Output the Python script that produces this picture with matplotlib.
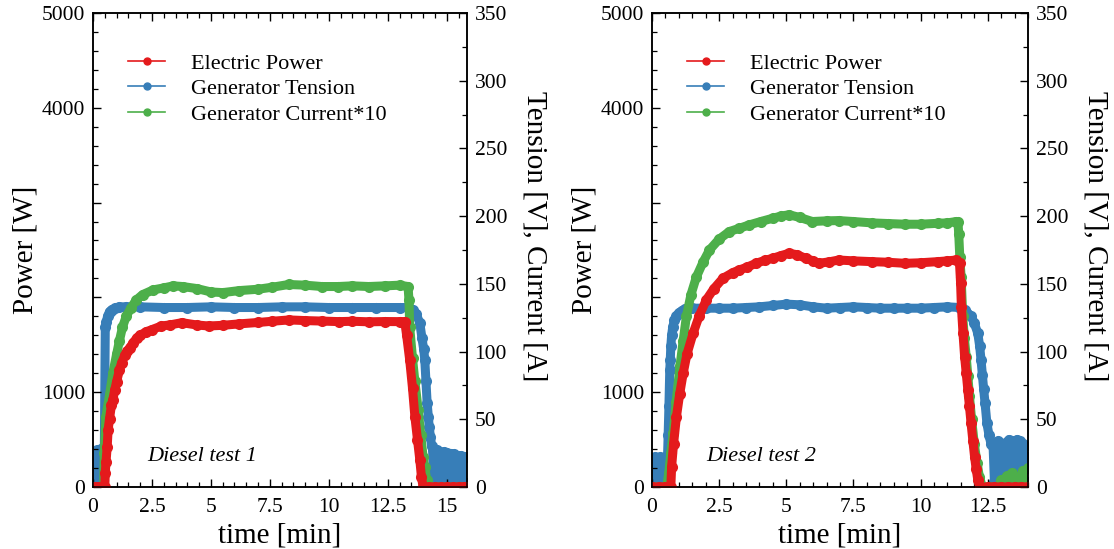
import matplotlib
matplotlib.use("Agg")
import matplotlib.pyplot as plt
from matplotlib.ticker import MultipleLocator, FuncFormatter

plt.rcParams['font.family'] = ['Liberation Serif', 'DejaVu Serif']

RED = '#E41A1C'
BLUE = '#377EB8'
GREEN = '#4DAF4A'

# ---------------- Diesel test 1 ----------------
power1_t = [0.0, 0.1, 0.2, 0.3, 0.4, 0.5, 0.52, 0.55, 0.6, 0.64, 0.7, 0.78, 0.84, 0.92, 1.0, 1.12,
            1.21, 1.35, 1.45, 1.55, 1.7, 1.85, 2.0, 2.26, 2.5, 2.9, 3.25, 3.77, 4.39, 4.9, 5.5, 6.18,
            7.0, 7.6, 8.32, 9.0, 9.7, 10.45, 11.0, 11.7, 12.4, 13.0, 13.22, 13.3, 13.43, 13.55, 13.65,
            13.76, 13.86, 13.93, 14.0, 14.25, 14.5, 14.75, 15.0, 15.25, 15.5, 15.75, 15.86]
power1 = [0, 0, 0, 0, 0, 0, 150, 260, 420, 600, 720, 860, 918, 1023, 1110, 1234,
          1308, 1390, 1430, 1466, 1520, 1570, 1600, 1638, 1660, 1698, 1709, 1733, 1709, 1698, 1705, 1720,
          1735, 1748, 1762, 1755, 1750, 1744, 1748, 1742, 1745, 1744, 1744, 1600, 1340, 1040, 742,
          500, 285, 100, 0, 0, 0, 0, 0, 0, 0, 0, 0]

tension1_t = [0.00, 0.04, 0.08, 0.12, 0.16, 0.20, 0.24, 0.28, 0.32, 0.36, 0.40, 0.44, 0.48,
              0.52, 0.56, 0.62, 0.70, 0.80, 0.95, 1.12, 1.4, 2.0, 3.0, 4.0, 5.0, 6.0, 7.0, 8.0,
              9.0, 10.0, 11.0, 12.0, 13.0, 13.4, 13.56, 13.7, 13.86, 13.95, 14.02, 14.07, 14.12,
              14.17, 14.22, 14.26, 14.31, 14.36,
              14.40, 14.45, 14.50, 14.55, 14.60, 14.65, 14.70, 14.75, 14.80, 14.85, 14.90, 14.95,
              15.00, 15.05, 15.10, 15.15, 15.20, 15.25, 15.30, 15.35, 15.40, 15.45, 15.50, 15.55,
              15.60, 15.65, 15.70, 15.75, 15.80, 15.86]
tension1 = [25, 3, 26, 2, 27, 4, 26, 1, 28, 3, 28, 5, 29,
            118, 122, 126, 129.5, 131, 132, 133, 133, 133, 132.5, 132.5, 133, 132.5, 132.5, 133,
            133, 132.5, 132.5, 132.5, 132.5, 132.5, 131, 128, 121, 110, 102, 94, 78,
            62, 52, 44, 37, 30,
            28, 3, 27, 1, 27, 4, 26, 2, 25, 5, 26, 1,
            25, 3, 24, 2, 24, 4, 24, 1, 23, 3, 23, 2,
            23, 4, 22, 1, 22, 3]

current1_t = [0.0, 0.45, 0.48, 0.55, 0.7, 0.84, 1.0, 1.12, 1.25, 1.41, 1.6, 1.83, 2.1, 2.55, 3.0,
              3.4, 3.8, 4.4, 5.0, 5.5, 6.2, 7.0, 7.6, 8.3, 9.0, 9.7, 10.4, 11.0, 11.7, 12.4, 13.0,
              13.36, 13.40, 13.43, 13.55, 13.65, 13.79, 13.9, 14.0, 14.07, 14.15, 14.2, 14.5, 15.0,
              15.5, 15.86]
current1 = [0, 0, 25, 52, 68, 84, 98, 108, 118, 126, 132, 138, 142, 145.5, 147,
            148.5, 148, 146.5, 144, 143.5, 145, 146, 147.5, 149.5, 149, 148, 148, 148.5, 148, 148.5, 149,
            148, 138, 118, 95, 78, 57, 38, 22, 15, 5, 0, 0, 0,
            0, 0]

# ---------------- Diesel test 2 ----------------
power2_t = [0.0, 0.25, 0.5, 0.7, 0.73, 0.8, 0.91, 1.03, 1.16, 1.3, 1.53, 1.75, 2.02, 2.3, 2.64,
            3.0, 3.25, 3.55, 3.87, 4.2, 4.49, 4.8, 5.1, 5.4, 5.72, 6.0, 6.21, 6.6, 6.95, 7.5, 8.18,
            8.8, 9.42, 10.0, 10.65, 11.0, 11.33, 11.45, 11.49, 11.52, 11.58, 11.64, 11.7, 11.76,
            11.82, 11.88, 11.95, 12.01, 12.07, 12.13, 12.2, 12.5, 12.75, 13.0, 13.25, 13.5, 13.75, 14.0]
power2 = [0, 0, 0, 0, 214, 450, 742, 980, 1199, 1400, 1621, 1800, 1973, 2090, 2201,
          2260, 2289, 2320, 2359, 2390, 2412, 2440, 2465, 2450, 2412, 2385, 2359, 2375, 2394, 2385, 2377,
          2370, 2359, 2365, 2377, 2385, 2394, 2359, 2150, 1900, 1620, 1374, 1200, 1023,
          850, 672, 480, 320, 190, 74, 0, 0, 0, 0, 0, 0, 0, 0]

tension2_t = [0.00, 0.05, 0.10, 0.15, 0.20, 0.25, 0.30, 0.35, 0.40, 0.45, 0.50, 0.55, 0.60,
              0.63, 0.66, 0.68, 0.70, 0.73, 0.77, 0.83, 0.90, 1.00, 1.10, 1.22, 1.5, 2.0, 2.5,
              3.0, 3.5, 4.0, 4.5, 5.0, 5.5, 6.0, 6.5, 7.0, 7.5, 8.0, 8.5, 9.0, 9.5, 10.0, 10.5,
              11.0, 11.45, 11.65, 11.88, 12.0, 12.13, 12.2, 12.25, 12.3, 12.35, 12.4, 12.47, 12.55,
              12.62,
              12.70, 12.75, 12.80, 12.85, 12.90, 12.95, 13.00, 13.05, 13.10, 13.15, 13.20, 13.25,
              13.30, 13.35, 13.40, 13.45, 13.50, 13.55, 13.60, 13.65, 13.70, 13.75, 13.80, 13.85,
              13.90, 13.95, 14.00]
tension2 = [21, 2, 22, 3, 21, 1, 22, 4, 21, 2, 22, 3, 38,
            60, 86, 94, 104, 112, 118, 123, 126, 128.5, 130, 131.5, 132, 132, 132,
            132, 132.5, 133, 134, 135, 134.5, 133, 132, 132.5, 133, 132.5, 132, 132, 132, 132, 132.5,
            133, 132.5, 131, 126, 121, 113.5, 104, 94, 83, 72, 62, 47, 38,
            32,
            30, 4, 33, 2, 34, 5, 32, 1, 30, 6, 33, 3,
            35, 2, 34, 8, 33, 3, 35, 1, 34, 5, 32, 2,
            30, 4, 22]

current2_t = [0.0, 0.55, 0.62, 0.7, 0.79, 0.9, 1.04, 1.16, 1.28, 1.45, 1.65, 1.9, 2.14, 2.5, 2.88,
              3.25, 3.62, 4.05, 4.49, 4.8, 5.1, 5.5, 5.97, 6.5, 6.95, 7.5, 8.18, 8.8, 9.42, 10.0,
              10.65, 11.0, 11.33, 11.39, 11.42, 11.46, 11.51, 11.57, 11.63, 11.70, 11.76, 11.82,
              11.9, 12.0, 12.1, 12.19, 12.3, 12.6, 12.9, 13.0, 13.1, 13.2, 13.3, 13.4, 13.5, 13.6,
              13.7, 13.8, 13.9, 14.0]
current2 = [0, 0, 10, 25, 40, 63, 89, 108, 126, 142, 155, 166, 175, 183, 188.6,
            191, 193.5, 196, 198.4, 200, 201, 199, 196, 196.5, 196.7, 196, 195, 194.5, 194, 194,
            194.7, 195, 196, 196, 187, 170, 155, 126, 110, 96, 82, 67,
            50, 32, 18, 7.6, 0, 0, 0, 5, 0, 8, 0, 10, 1, 6,
            0, 12, 2, 14]

labels = ['Electric Power', 'Generator Tension', 'Generator Current*10']
titles = ['Diesel test 1', 'Diesel test 2']
x_max = [15.86, 14.0]


def fmt_g(v, pos):
    return '%g' % v


def power_fmt(v, pos):
    if round(v) in (0, 1000, 4000, 5000):
        return '%d' % round(v)
    return ''


def draw_panel(rect, tp, p, tt, tv, tc, cv, title, xmax):
    ax = fig.add_axes(rect)
    ax2 = ax.twinx()
    # power axis on top so red is drawn over blue/green
    ax.set_zorder(ax2.get_zorder() + 1)
    ax.patch.set_visible(False)

    kw = dict(marker='o', markersize=8, markeredgewidth=0, linewidth=6.5,
              solid_joinstyle='round', solid_capstyle='round')
    ax2.plot(tt, tv, color=BLUE, **kw)
    ax2.plot(tc, cv, color=GREEN, **kw)
    ax.plot(tp, p, color=RED, **kw)

    ax.set_xlim(0, xmax)
    ax.set_ylim(0, 5000)
    ax2.set_ylim(0, 350)

    ax.xaxis.set_major_locator(MultipleLocator(2.5))
    ax.xaxis.set_minor_locator(MultipleLocator(0.5))
    ax.xaxis.set_major_formatter(FuncFormatter(fmt_g))
    ax.yaxis.set_major_locator(MultipleLocator(1000))
    ax.yaxis.set_minor_locator(MultipleLocator(200))
    ax.yaxis.set_major_formatter(FuncFormatter(power_fmt))
    ax2.yaxis.set_major_locator(MultipleLocator(50))
    ax2.yaxis.set_minor_locator(MultipleLocator(25))

    for a in (ax, ax2):
        a.tick_params(which='both', direction='in', labelsize=15.5, pad=5.5)
        a.tick_params(which='major', length=6, width=1)
        a.tick_params(which='minor', length=3.5, width=0.9)
        for s in a.spines.values():
            s.set_linewidth(1.1)
    ax.tick_params(axis='x', which='both', top=True, pad=8)

    ax.set_xlabel('time [min]', fontsize=21, labelpad=4)
    ax.set_ylabel('Power [W]', fontsize=21)
    ax.yaxis.set_label_coords(-0.145, 0.5)
    ax2.set_ylabel('Tension [V], Current [A]', fontsize=21, rotation=270)
    ax2.yaxis.set_label_coords(1.215, 0.53)

    ax.text(0.145, 0.055, title, transform=ax.transAxes, fontsize=16, style='italic')

    hkw = dict(marker='o', markersize=5, linewidth=1.2)
    handles = [plt.Line2D([], [], color=RED, **hkw),
               plt.Line2D([], [], color=BLUE, **hkw),
               plt.Line2D([], [], color=GREEN, **hkw)]
    ax.legend(handles, labels, loc='upper left', bbox_to_anchor=(0.094, 0.915),
              frameon=False, fontsize=16, borderaxespad=0, borderpad=0,
              handlelength=1.67, handletextpad=1.16, labelspacing=0.22)
    return ax, ax2


fig = plt.figure(figsize=(11.14, 5.49), dpi=100)
draw_panel([0.0835, 0.113, 0.3357, 0.8634], power1_t, power1, tension1_t, tension1,
           current1_t, current1, titles[0], x_max[0])
draw_panel([0.5853, 0.113, 0.3375, 0.8634], power2_t, power2, tension2_t, tension2,
           current2_t, current2, titles[1], x_max[1])
fig.savefig('out.png', dpi=100)
